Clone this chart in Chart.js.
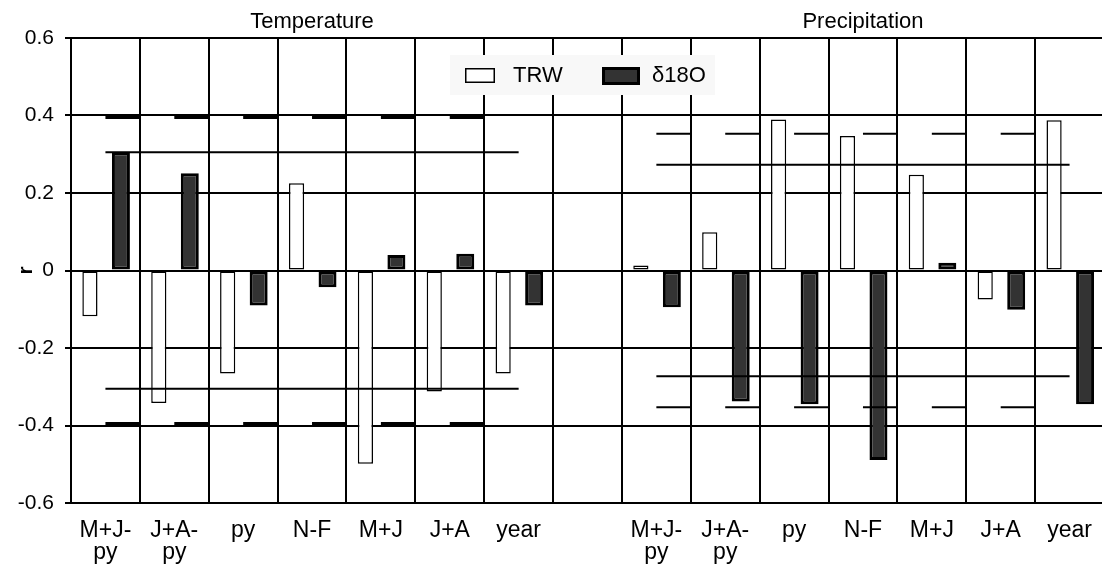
<!DOCTYPE html>
<html><head><meta charset="utf-8">
<script src="https://cdn.jsdelivr.net/npm/chart.js@4.4.1/dist/chart.umd.min.js"></script>
<style>
html,body{margin:0;padding:0;background:#fff;overflow:hidden;width:1102px;height:565px;}
#wrap{position:absolute;left:0;top:0;width:1112px;height:565px;}
</style></head><body>
<div id="wrap"><canvas id="c" width="1112" height="565"></canvas></div>
<script>
// ---- data ----
const categories = [['M+J-','py'],['J+A-','py'],'py','N-F','M+J','J+A','year','',['M+J-','py'],['J+A-','py'],'py','N-F','M+J','J+A','year'];
const trwValues  = [-0.118,-0.342,-0.266, 0.225,-0.499,-0.312,-0.266, null, 0.013, 0.099, 0.390, 0.347, 0.247,-0.075, 0.388];
const d18oValues = [ 0.305, 0.251,-0.090,-0.043, 0.040, 0.043,-0.090, null,-0.095,-0.338,-0.345,-0.489, 0.020,-0.101,-0.345];
const seriesNames = ['TRW','δ18O'];
const yTicks = [-0.6,-0.4,-0.2,0,0.2,0.4,0.6];
const groupTitles = ['Temperature','Precipitation'];
const groupFirst = [0, 8];
const groupLast  = [6, 14];
const sigLineLevels = [0.305, 0.273];  // long significance lines (±)
const sigDashLevels = [0.395, 0.353];  // short significance dashes (±)

const toPoints = arr => arr.map((v, i) => ({x: i, y: v}));

function longLineData(){
  const pts = [];
  for (let g = 0; g < 2; g++) {
    for (const s of [1,-1]) {
      pts.push({x: groupFirst[g], y: s*sigLineLevels[g]});
      pts.push({x: groupLast[g],  y: s*sigLineLevels[g]});
      pts.push({x: groupLast[g],  y: null});
    }
  }
  return pts;
}
function dashData(g){
  const pts = [];
  for (const s of [1,-1]) {
    for (let i = groupFirst[g]; i < groupLast[g]; i++) {
      pts.push({x: i, y: s*sigDashLevels[g]});
      pts.push({x: i + 0.5, y: s*sigDashLevels[g]});
      pts.push({x: i + 0.5, y: null});
    }
  }
  return pts;
}

const FONT = 'Liberation Sans, Arial, sans-serif';

const titlePlugin = {
  id: 'groupTitles',
  afterDraw(chart){
    const ctx = chart.ctx, x = chart.scales.x;
    ctx.save();
    ctx.fillStyle = '#000';
    ctx.font = '22px ' + FONT;
    ctx.textAlign = 'center';
    ctx.textBaseline = 'alphabetic';
    for (let g = 0; g < 2; g++) {
      const cx = (x.getPixelForValue(groupFirst[g]) + x.getPixelForValue(groupLast[g])) / 2;
      ctx.fillText(groupTitles[g], cx, 28);
    }
    ctx.restore();
  }
};

const legendPlugin = {
  id: 'boxLegend',
  afterDraw(chart){
    const ctx = chart.ctx;
    const ds = chart.data.datasets;
    ctx.save();
    ctx.fillStyle = '#f8f8f8';
    ctx.fillRect(450, 55, 265, 40);
    ctx.fillStyle = ds[0].backgroundColor;
    ctx.fillRect(465, 68, 30, 15);
    ctx.lineWidth = 1.5; ctx.strokeStyle = '#000';
    ctx.strokeRect(465.75, 68.75, 28.5, 13.5);
    ctx.fillStyle = '#000';
    ctx.fillRect(602, 67, 38, 18);
    ctx.fillStyle = ds[1].backgroundColor;
    ctx.fillRect(605, 70, 32, 12);
    ctx.fillStyle = '#000';
    ctx.font = '22px ' + FONT;
    ctx.textBaseline = 'middle';
    ctx.textAlign = 'left';
    ctx.fillText(ds[0].label, 513, 76);
    ctx.fillText(ds[1].label, 652, 76);
    ctx.restore();
  }
};

new Chart(document.getElementById('c'), {
  type: 'bar',
  data: {
    datasets: [
      {label: seriesNames[0], data: toPoints(trwValues), backgroundColor: '#ffffff', borderColor: '#000', borderWidth: 1.5,
       borderSkipped: false, barPercentage: 0.49, categoryPercentage: 0.9, order: 2},
      {label: seriesNames[1], data: toPoints(d18oValues), backgroundColor: '#333333', borderColor: '#000', borderWidth: 3,
       borderSkipped: false, barPercentage: 0.58, categoryPercentage: 0.9, order: 2},
      {type: 'line', label: 'sig', data: longLineData(), borderColor: '#000', borderWidth: 2,
       pointRadius: 0, spanGaps: false, fill: false, order: 1},
      {type: 'line', label: 'sigDashT', data: dashData(0), borderColor: '#000', borderWidth: 3,
       pointRadius: 0, spanGaps: false, fill: false, order: 1},
      {type: 'line', label: 'sigDashP', data: dashData(1), borderColor: '#000', borderWidth: 2,
       pointRadius: 0, spanGaps: false, fill: false, order: 1}
    ]
  },
  options: {
    responsive: false,
    animation: false,
    layout: {padding: {top: 38, right: 8, left: 0, bottom: 0}},
    plugins: {legend: {display: false}, tooltip: {enabled: false}},
    scales: {
      x: {
        type: 'linear', offset: false, min: -0.5, max: categories.length - 0.5,
        afterBuildTicks(s){ s.ticks = categories.map((_, i) => ({value: i})); },
        grid: {offset: true, color: '#000', lineWidth: 2, drawTicks: false},
        border: {color: '#000', width: 2},
        ticks: {color: '#000', font: {family: FONT, size: 23, lineHeight: 0.95}, maxRotation: 0, autoSkip: false, padding: 17,
                callback: v => categories[v]},
        afterFit(s){ s.height = 62; }
      },
      y: {
        min: yTicks[0], max: yTicks[yTicks.length-1],
        afterBuildTicks(s){ s.ticks = yTicks.map(v => ({value: v})); },
        ticks: {color: '#000', font: {family: FONT, size: 21}, padding: 11,
                callback: v => Math.abs(v) < 1e-9 ? '0' : Number(v).toFixed(1)},
        grid: {color: '#000', lineWidth: 2, tickLength: 6},
        border: {color: '#000', width: 2},
        title: {display: true, text: 'r', color: '#000', font: {family: FONT, size: 21, weight: 'bold'}, padding: {top: 14, bottom: 0}},
        afterFit(s){ s.width = 71; }
      }
    }
  },
  plugins: [titlePlugin, legendPlugin]
});
</script>
</body></html>
